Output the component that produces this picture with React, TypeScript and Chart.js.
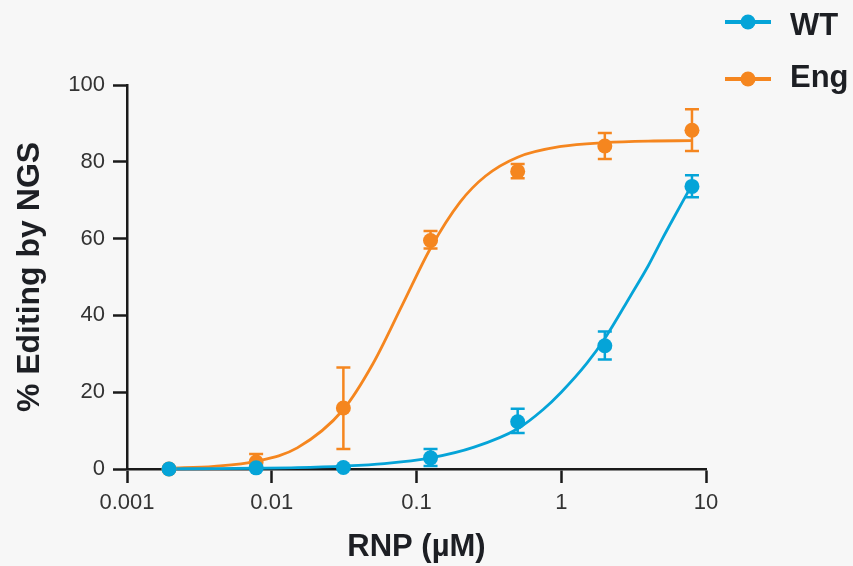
import { useEffect, useRef } from 'react';
import { Chart, registerables } from 'chart.js';

Chart.register(...registerables);

// RNP concentrations (µM)
const concentrations = [0.00195, 0.0078, 0.03125, 0.125, 0.5, 2, 8];

// WT: mean % editing and error bar ends
const wtMean = [0, 0.3, 0.4, 2.9, 12.3, 32.1, 73.6];
const wtErrLow = [0, 0.3, 0.4, 0.8, 9.4, 28.5, 70.8];
const wtErrHigh = [0, 0.3, 0.4, 5.2, 15.7, 35.8, 76.5];

// Eng: mean % editing and error bar ends
const engMean = [0, 1.8, 15.9, 59.5, 77.5, 84.1, 88.2];
const engErrLow = [0, 0.4, 5.2, 57.4, 75.7, 80.7, 82.8];
const engErrHigh = [0, 3.9, 26.4, 62.0, 79.4, 87.5, 93.7];

// Fitted curves
const wtCurveX = [0.00195, 0.004, 0.0078, 0.015, 0.03125, 0.06, 0.125, 0.25, 0.5, 0.75, 1, 1.5, 2, 3, 4, 5, 6, 8];
const wtCurveY = [0.05, 0.1, 0.2, 0.35, 0.75, 1.4, 2.9, 5.7, 10.5, 15.5, 20, 27.5, 34, 45, 53, 60, 65.5, 74];
const engCurveX = [0.00195, 0.004, 0.0078, 0.015, 0.03125, 0.05, 0.08, 0.125, 0.2, 0.3, 0.5, 1, 2, 4, 8];
const engCurveY = [0.2, 0.7, 2, 5.5, 15.5, 27.4, 42.8, 57.5, 69.5, 76.3, 81.2, 84, 85, 85.4, 85.5];

// Axis ticks
const xTickValues = [0.001, 0.01, 0.1, 1, 10];
const xTickLabels = ['0.001', '0.01', '0.1', '1', '10'];

const seriesNames = ['WT', 'Eng'];
const BLUE = '#05a4d8';
const ORANGE = '#f5861f';
const INK = '#1d1f24';
const AXIS = '#1a1a1a';
const FONT = "'Liberation Sans', Arial, Helvetica, sans-serif";

const errorBarPlugin = {
  id: 'errorBars',
  beforeDatasetsDraw(chart: any) {
    const { ctx, scales } = chart;
    const xs = scales.x;
    const ys = scales.y;
    const groups = [
      { low: wtErrLow, high: wtErrHigh, color: BLUE },
      { low: engErrLow, high: engErrHigh, color: ORANGE },
    ];
    ctx.save();
    ctx.lineWidth = 2.5;
    ctx.lineCap = 'butt';
    const cap = 7;
    // draw Eng first so WT sits above
    for (let g = groups.length - 1; g >= 0; g--) {
      const grp = groups[g];
      ctx.strokeStyle = grp.color;
      concentrations.forEach((c, i) => {
        if (grp.high[i] - grp.low[i] <= 0.0001) return;
        const px = xs.getPixelForValue(c);
        const y1 = ys.getPixelForValue(grp.low[i]);
        const y2 = ys.getPixelForValue(grp.high[i]);
        ctx.beginPath();
        ctx.moveTo(px, y1);
        ctx.lineTo(px, y2);
        ctx.moveTo(px - cap, y1);
        ctx.lineTo(px + cap, y1);
        ctx.moveTo(px - cap, y2);
        ctx.lineTo(px + cap, y2);
        ctx.stroke();
      });
    }
    ctx.restore();
  },
};

const legendPlugin = {
  id: 'customLegend',
  afterDraw(chart: any) {
    const { ctx } = chart;
    const items = [
      { label: seriesNames[0], color: BLUE, y: 22, base: 35 },
      { label: seriesNames[1], color: ORANGE, y: 79, base: 87 },
    ];
    ctx.save();
    items.forEach((it) => {
      ctx.strokeStyle = it.color;
      ctx.lineWidth = 4;
      ctx.beginPath();
      ctx.moveTo(725, it.y);
      ctx.lineTo(771, it.y);
      ctx.stroke();
      ctx.fillStyle = it.color;
      ctx.beginPath();
      ctx.arc(748, it.y, 7.5, 0, Math.PI * 2);
      ctx.fill();
      ctx.fillStyle = INK;
      ctx.font = `bold 31px ${FONT}`;
      ctx.textAlign = 'left';
      ctx.textBaseline = 'alphabetic';
      ctx.fillText(it.label, 790, it.base);
    });
    ctx.restore();
  },
};

export default function App() {
  const ref = useRef<HTMLCanvasElement | null>(null);

  useEffect(() => {
    document.body.style.margin = '0';
    document.body.style.background = '#f7f7f7';
    const canvas = ref.current;
    if (!canvas) return;

    const toPts = (xs: number[], ys: number[]) => xs.map((x, i) => ({ x, y: ys[i] }));

    const chart = new Chart(canvas, {
      type: 'line',
      data: {
        datasets: [
          {
            label: seriesNames[0],
            data: toPts(concentrations, wtMean),
            showLine: false,
            pointRadius: 7.5,
            pointBackgroundColor: BLUE,
            pointBorderWidth: 0,
            borderColor: BLUE,
            clip: false,
          } as any,
          {
            label: seriesNames[1],
            data: toPts(concentrations, engMean),
            showLine: false,
            pointRadius: 7.5,
            pointBackgroundColor: ORANGE,
            pointBorderWidth: 0,
            borderColor: ORANGE,
            clip: false,
          } as any,
          {
            label: seriesNames[0] + ' fit',
            data: toPts(wtCurveX, wtCurveY),
            borderColor: BLUE,
            borderWidth: 2.8,
            pointRadius: 0,
            cubicInterpolationMode: 'monotone',
            fill: false,
            clip: false,
          } as any,
          {
            label: seriesNames[1] + ' fit',
            data: toPts(engCurveX, engCurveY),
            borderColor: ORANGE,
            borderWidth: 2.8,
            pointRadius: 0,
            cubicInterpolationMode: 'monotone',
            fill: false,
            clip: false,
          } as any,
        ],
      },
      options: {
        responsive: false,
        animation: false,
        devicePixelRatio: 1,
        layout: { padding: { top: 85, right: 147, left: 0, bottom: 0 } },
        plugins: {
          legend: { display: false },
          tooltip: { enabled: false },
        },
        scales: {
          x: {
            type: 'logarithmic',
            min: 0.001,
            max: 10,
            afterBuildTicks: (scale: any) => {
              scale.ticks = xTickValues.map((v) => ({ value: v, major: true }));
            },
            afterFit: (scale: any) => {
              scale.height = 97;
            },
            ticks: {
              autoSkip: false,
              maxRotation: 0,
              padding: 7,
              color: '#333333',
              font: { family: FONT, size: 22 },
              callback: (_v: any, i: number) => xTickLabels[i],
            },
            grid: {
              drawOnChartArea: false,
              drawTicks: true,
              tickLength: 14,
              tickWidth: 2.5,
              tickColor: AXIS,
            },
            border: { display: true, color: AXIS, width: 2.5 },
            title: {
              display: true,
              text: 'RNP (µM)',
              color: INK,
              font: { family: FONT, size: 31, weight: 'bold', lineHeight: 1 },
              padding: { top: 0, bottom: 3 },
            },
          },
          y: {
            type: 'linear',
            min: 0,
            max: 100,
            afterFit: (scale: any) => {
              scale.width = 127;
            },
            ticks: {
              stepSize: 20,
              padding: 8,
              color: '#333333',
              font: { family: FONT, size: 22 },
            },
            grid: {
              drawOnChartArea: false,
              drawTicks: true,
              tickLength: 14,
              tickWidth: 2.5,
              tickColor: AXIS,
            },
            border: { display: true, color: AXIS, width: 2.5 },
            title: {
              display: true,
              text: '% Editing by NGS',
              color: INK,
              font: { family: FONT, size: 32, weight: 'bold', lineHeight: 1 },
              padding: { top: 14, bottom: 0 },
            },
          },
        },
      } as any,
      plugins: [errorBarPlugin, legendPlugin],
    });

    return () => chart.destroy();
  }, []);

  return (
    <div style={{ width: 853, height: 566, background: '#f7f7f7' }}>
      <canvas ref={ref} width={853} height={566} style={{ display: 'block' }} />
    </div>
  );
}
